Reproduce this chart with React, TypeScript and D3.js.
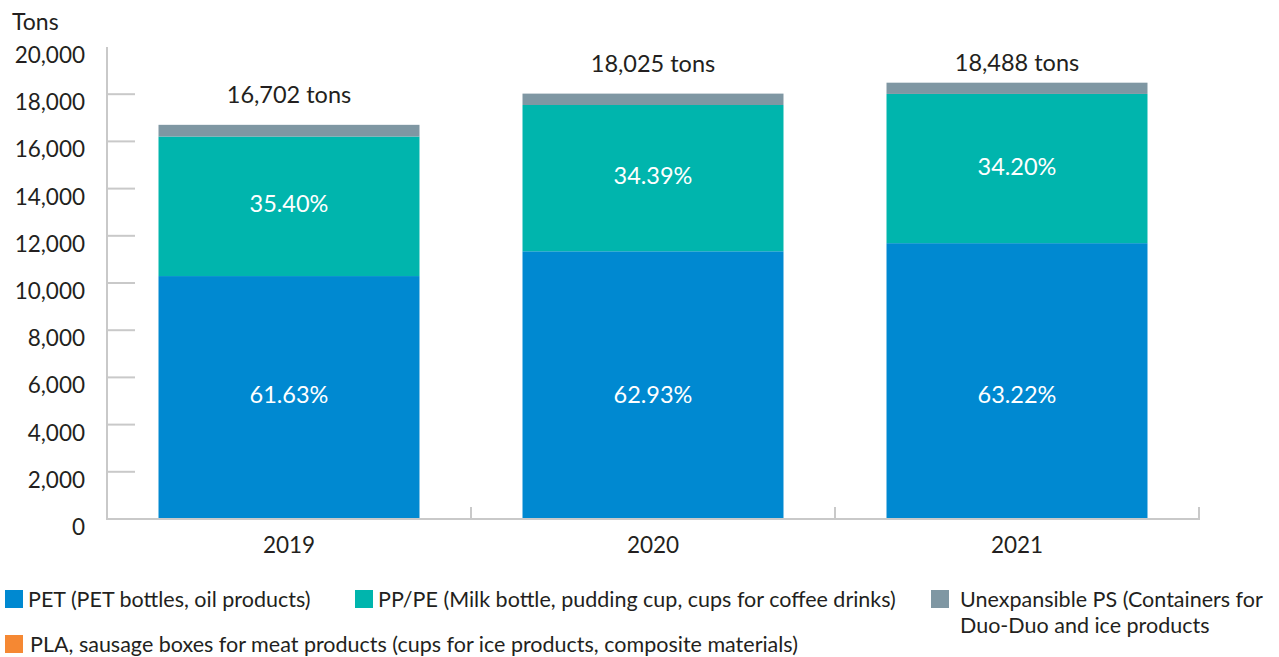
import React, { useEffect, useRef } from "react";
import * as d3 from "d3";

// --- Data
const years = ["2019", "2020", "2021"];
const totals = [16702, 18025, 18488];
const petValues = [10294, 11343, 11688];
const ppValues = [5912, 6199, 6323];
const psValues = [496, 483, 477];
const plaValues = [0, 0, 0];
const petLabels = ["61.63%", "62.93%", "63.22%"];
const ppLabels = ["35.40%", "34.39%", "34.20%"];
const yTicks = [0, 2000, 4000, 6000, 8000, 10000, 12000, 14000, 16000, 18000, 20000];

const seriesKeys = ["pet", "pp", "ps", "pla"];
const seriesColors = ["#0089d1", "#00b5ad", "#7f97a3", "#f58833"];

const FONT = "Lato, 'Open Sans', sans-serif";
const TEXT = "#231f20";

const App: React.FC = () => {
  const ref = useRef<SVGSVGElement | null>(null);

  useEffect(() => {
    if (!ref.current) return;
    const width = 1279;
    const height = 657;
    const root = d3.select(ref.current);
    root.selectAll("*").remove();
    root.attr("width", width).attr("height", height);

    const svg = root.append("g").style("font-family", FONT);

    const x = d3
      .scaleBand<string>()
      .domain(years)
      .range([107, 1199])
      .paddingInner(0.283)
      .paddingOuter(0.1415);
    const y = d3.scaleLinear().domain([0, 20000]).range([519, 47]);

    const rows = years.map((yr, i) => ({
      year: yr,
      pet: petValues[i],
      pp: ppValues[i],
      ps: psValues[i],
      pla: plaValues[i],
    }));
    const layers = d3.stack<any>().keys(seriesKeys)(rows);

    // bars
    layers.forEach((layer, li) => {
      svg
        .append("g")
        .selectAll("rect")
        .data(layer)
        .join("rect")
        .attr("x", (d) => x(d.data.year)!)
        .attr("width", x.bandwidth())
        .attr("y", (d) => y(d[1]))
        .attr("height", (d) => y(d[0]) - y(d[1]))
        .attr("fill", seriesColors[li]);
    });

    // axes
    const axisColor = "#c9c9c9";
    svg
      .append("line")
      .attr("x1", 107)
      .attr("x2", 107)
      .attr("y1", y(20000))
      .attr("y2", y(0))
      .attr("stroke", axisColor)
      .attr("stroke-width", 2);
    svg
      .append("line")
      .attr("x1", 106)
      .attr("x2", 1200)
      .attr("y1", y(0))
      .attr("y2", y(0))
      .attr("stroke", axisColor)
      .attr("stroke-width", 2);

    svg
      .selectAll(".ytick")
      .data(yTicks.filter((t) => t > 0 && t < 20000))
      .join("line")
      .attr("x1", 107)
      .attr("x2", 135)
      .attr("y1", (d) => y(d))
      .attr("y2", (d) => y(d))
      .attr("stroke", axisColor)
      .attr("stroke-width", 2);

    const step = x.step();
    svg
      .selectAll(".xsep")
      .data(d3.range(1, years.length + 1))
      .join("line")
      .attr("x1", (i) => 107 + step * i)
      .attr("x2", (i) => 107 + step * i)
      .attr("y1", y(0))
      .attr("y2", y(0) - 12)
      .attr("stroke", axisColor)
      .attr("stroke-width", 2);

    svg
      .selectAll(".ylab")
      .data(yTicks)
      .join("text")
      .attr("x", 85)
      .attr("y", (d) => y(d) + 16)
      .attr("text-anchor", "end")
      .style("font-size", "22.5px")
      .style("fill", TEXT)
      .text((d) => d3.format(",")(d));

    svg
      .append("text")
      .attr("x", 12)
      .attr("y", 30)
      .style("font-size", "23px")
      .style("fill", TEXT)
      .text("Tons");

    svg
      .selectAll(".xlab")
      .data(years)
      .join("text")
      .attr("x", (d) => x(d)! + x.bandwidth() / 2)
      .attr("y", 553)
      .attr("text-anchor", "middle")
      .style("font-size", "22.5px")
      .style("fill", TEXT)
      .text((d) => d);

    // totals
    svg
      .selectAll(".tot")
      .data(years)
      .join("text")
      .attr("x", (d) => x(d)! + x.bandwidth() / 2)
      .attr("y", (d, i) => Math.max(y(totals[i]) - 22, 71))
      .attr("text-anchor", "middle")
      .style("font-size", "23.5px")
      .style("fill", TEXT)
      .text((d, i) => `${d3.format(",")(totals[i])} tons`);

    // percentage labels
    const petY = y(d3.min(petValues)! / 2);
    svg
      .append("g")
      .selectAll("text")
      .data(layers[0])
      .join("text")
      .attr("x", (d) => x(d.data.year)! + x.bandwidth() / 2)
      .attr("y", petY + 5)
      .attr("text-anchor", "middle")
      .style("font-size", "23.5px")
      .style("fill", "#ffffff")
      .text((d, i) => petLabels[i]);
    svg
      .append("g")
      .selectAll("text")
      .data(layers[1])
      .join("text")
      .attr("x", (d) => x(d.data.year)! + x.bandwidth() / 2)
      .attr("y", (d) => (y(d[0]) + y(d[1])) / 2 + 6)
      .attr("text-anchor", "middle")
      .style("font-size", "23.5px")
      .style("fill", "#ffffff")
      .text((d, i) => ppLabels[i]);

    // legend
    const legend = [
      { x: 5, y: 590, tx: 23, color: seriesColors[0], lines: ["PET (PET bottles, oil products)"] },
      {
        x: 355,
        y: 590,
        tx: 23,
        color: seriesColors[1],
        lines: ["PP/PE (Milk bottle, pudding cup, cups for coffee drinks)"],
      },
      {
        x: 931,
        y: 590,
        tx: 29,
        color: seriesColors[2],
        lines: ["Unexpansible PS (Containers for", "Duo-Duo and ice products"],
      },
      {
        x: 5,
        y: 635,
        tx: 25,
        color: seriesColors[3],
        lines: ["PLA, sausage boxes for meat products (cups for ice products, composite materials)"],
      },
    ];
    const lg = svg
      .selectAll(".leg")
      .data(legend)
      .join("g")
      .attr("transform", (d) => `translate(${d.x},${d.y})`);
    lg.append("rect")
      .attr("width", 18)
      .attr("height", 18)
      .attr("fill", (d) => d.color);
    lg.each(function (d) {
      const g = d3.select(this);
      d.lines.forEach((line, i) => {
        g.append("text")
          .attr("x", d.tx)
          .attr("y", 17 + i * 26)
          .style("font-size", "21.5px")
          .style("fill", TEXT)
          .text(line);
      });
    });

    return () => {
      root.selectAll("*").remove();
    };
  }, []);

  return <svg ref={ref} style={{ position: "absolute", left: 0, top: 0 }}></svg>;
};

export default App;
